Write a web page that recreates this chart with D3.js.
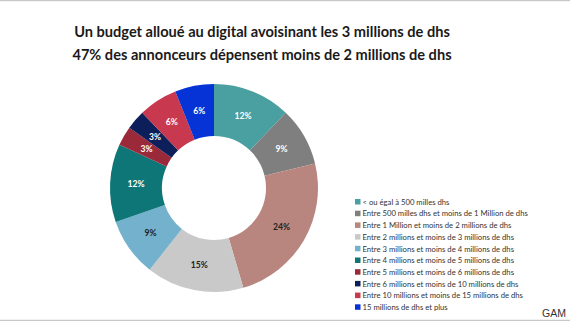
<!DOCTYPE html>
<html><head><meta charset="utf-8">
<script src="https://cdn.jsdelivr.net/npm/d3@7"></script>
<style>body{margin:0;background:#fff}svg{display:block}</style>
</head><body>
<script>
const categories = [
  "< ou égal à 500 milles dhs",
  "Entre 500 milles dhs et moins de 1 Million de dhs",
  "Entre 1 Million et moins de 2 millions de dhs",
  "Entre 2 millions et moins de 3 millions de dhs",
  "Entre 3 millions et moins de 4 millions de dhs",
  "Entre 4 millions et moins de 5 millions de dhs",
  "Entre 5 millions et moins de 6 millions de dhs",
  "Entre 6 millions et moins de 10 millions de dhs",
  "Entre 10 millions et moins de 15 millions de dhs",
  "15 millions de dhs et plus"
];
const values = [12, 9, 24, 15, 9, 12, 3, 3, 6, 6];
const colors = ["#4a9fa1","#7f7f7f","#b9867f","#c9c9c9","#74b1cd","#0f7677","#9a2a3a","#0c1f5a","#c8384f","#0533d6"];
const labelColors = ["#fff","#fff","#222","#222","#222","#fff","#fff","#fff","#fff","#fff"];
const titleLines = ["Un budget alloué au digital avoisinant les 3 millions de dhs",
                    "47% des annonceurs dépensent moins de 2 millions de dhs"];

const W = 570, H = 321;
const svg = d3.select("body").append("svg").attr("width", W).attr("height", H);
svg.append("line").attr("x1",0).attr("x2",W).attr("y1",0.5).attr("y2",0.5).attr("stroke","#c8c8c8").attr("stroke-width",1.5);
svg.append("line").attr("x1",0).attr("x2",W).attr("y1",320.5).attr("y2",320.5).attr("stroke","#c8c8c8").attr("stroke-width",1.5);

svg.selectAll("text.title").data(titleLines).join("text")
  .attr("class","title").attr("x",262).attr("y",(d,i)=>37+i*23)
  .attr("text-anchor","middle").attr("font-family","Lato, 'Open Sans', sans-serif")
  .attr("font-weight","bold").attr("font-size",14.6).attr("fill","#1a1a1a").text(d=>d);

const cx = 214, cy = 188, R = 104, r = 52;
const pie = d3.pie().sort(null).value(d=>d);
const arcs = pie(values);
const arc = d3.arc().innerRadius(r).outerRadius(R);
const labelArc = d3.arc().innerRadius((r+R)/2).outerRadius((r+R)/2);
const g = svg.append("g").attr("transform",`translate(${cx},${cy})`);
g.selectAll("path").data(arcs).join("path").attr("d",arc).attr("fill",(d,i)=>colors[i]);
g.selectAll("text").data(arcs).join("text")
  .attr("transform",d=>`translate(${labelArc.centroid(d)})`)
  .attr("text-anchor","middle").attr("dy","0.35em")
  .attr("font-family","Lato, 'Open Sans', sans-serif").attr("font-weight","bold").attr("font-size",8.6)
  .attr("fill",(d,i)=>labelColors[i]).text(d=>d.data+"%");

const lg = svg.append("g");
const rows = lg.selectAll("g").data(categories).join("g")
  .attr("transform",(d,i)=>`translate(355,${202+i*11.7})`);
rows.append("rect").attr("x",0).attr("y",-3).attr("width",5.5).attr("height",5.5).attr("fill",(d,i)=>colors[i]);
rows.append("text").attr("x",7.5).attr("y",0).attr("dy","0.35em")
  .attr("font-family","Lato, 'Open Sans', sans-serif").attr("font-size",7.7).attr("fill","#333").text(d=>d);

svg.append("text").attr("x",566).attr("y",317).attr("text-anchor","end")
  .attr("font-family","'Liberation Sans', Arial, sans-serif").attr("font-size",10.5).attr("fill","#333").text("GAM");
</script>
</body></html>
